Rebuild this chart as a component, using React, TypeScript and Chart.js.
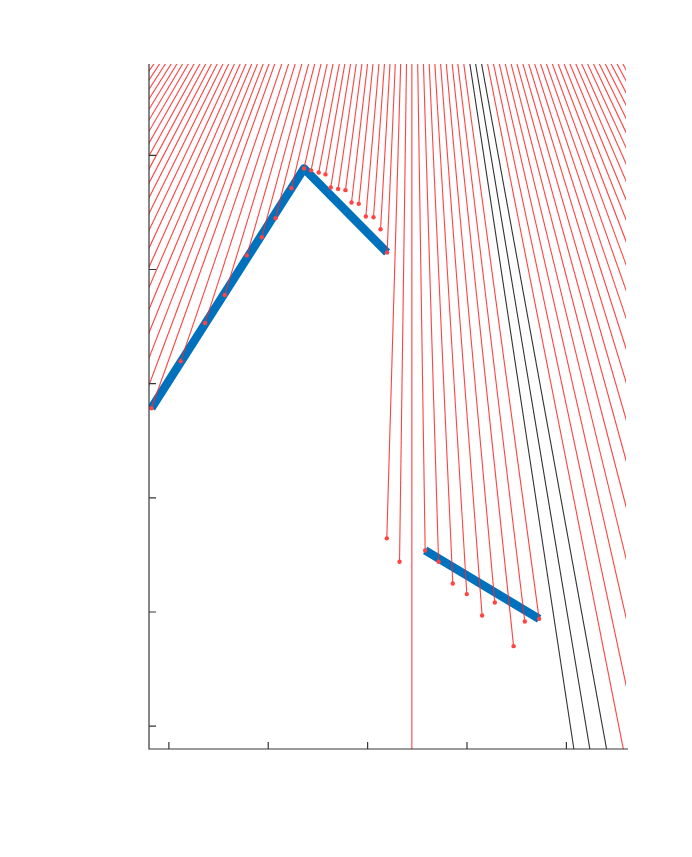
import React, { useEffect, useRef } from 'react';
import { Chart, registerables } from 'chart.js';

Chart.register(...registerables);

// axis tick positions (labels are not shown in the reference)
const xTicks = [1, 2, 3, 4, 5];
const yTicks = [0, 1, 2, 3, 4, 5];

// common far point that every spoke runs to (above the plot)
const hubX = 3.445;
const hubY = 9.15;

// visible red markers
const markerX = [
  0.824, 1.119, 1.364, 1.562, 1.784, 1.935, 2.073, 2.234, 2.36, 2.431, 2.508,
  2.576, 2.629, 2.703, 2.777, 2.838, 2.911, 2.982, 3.059, 3.13, 3.196, 3.193,
  3.321, 3.579, 3.714, 3.857, 3.998, 4.152, 4.28, 4.469, 4.582, 4.726,
];
const markerY = [
  2.785, 3.197, 3.531, 3.776, 4.122, 4.282, 4.449, 4.712, 4.885, 4.868, 4.85,
  4.833, 4.718, 4.706, 4.695, 4.587, 4.575, 4.464, 4.458, 4.353, 4.148, 1.645,
  1.44, 1.539, 1.44, 1.25, 1.157, 0.969, 1.083, 0.701, 0.917, 0.94,
];

// spokes whose own points lie left of the plot
const leftEndX = [
  0.555, 0.555, 0.555, 0.555, 0.555, 0.555, 0.555, 0.555, 0.555, 0.555, 0.555,
  0.555, 0.555, 0.555, 0.555, 0.555, 0.555, 0.555, 0.555, 0.555, 0.555,
];
const leftEndY = [
  2.416, 2.677, 2.918, 3.143, 3.351, 3.546, 3.727, 3.898, 4.058, 4.209, 4.351,
  4.485, 4.611, 4.732, 4.846, 4.954, 5.056, 5.154, 5.247, 5.337, 5.422,
];

// spokes whose own points lie right of / below the plot
const rightEndX = [
  5.94, 5.94, 5.94, 5.94, 5.94, 5.94, 5.94, 5.94, 5.94, 5.94, 5.94, 5.94,
  5.94, 5.94, 5.94, 5.94, 5.94, 5.94, 5.94, 5.94, 5.94, 5.94, 5.94, 5.94,
];
const rightEndY = [
  -1.812, -1.023, -0.339, 0.259, 0.786, 1.254, 1.672, 2.047, 2.388, 2.697,
  2.979, 3.238, 3.475, 3.695, 3.897, 4.086, 4.261, 4.425, 4.578, 4.721, 4.856,
  4.982, 5.103, 5.215,
];

// the plumb spoke straight below the hub
const plumbX = [3.445];
const plumbY = [-0.7];

// the three dark spokes
const blackEndX = [5.14, 5.307, 5.482];
const blackEndY = [-0.57, -0.57, -0.57];

// thick blue polylines
const blue1X = [0.824, 2.36, 3.196];
const blue1Y = [2.785, 4.885, 4.148];
const blue2X = [3.579, 4.726];
const blue2Y = [1.539, 0.94];

const RED = 'rgba(255, 40, 40, 0.88)';
const RED_DOT = '#ff4444';
const BLACK = '#333333';
const BLUE = '#0072BD';

function spoke(x: number, y: number, color: string, dot: number) {
  return {
    data: [
      { x, y },
      { x: hubX, y: hubY },
    ],
    showLine: true,
    borderColor: color,
    borderWidth: 1.1,
    pointRadius: [dot, 0],
    pointBackgroundColor: RED_DOT,
    pointBorderWidth: 0,
    order: 1,
  };
}

function blue(xs: number[], ys: number[]) {
  return {
    data: xs.map((x, i) => ({ x, y: ys[i] })),
    showLine: true,
    borderColor: BLUE,
    borderWidth: 8.5,
    borderJoinStyle: 'round' as const,
    pointRadius: 0,
    order: 2,
  };
}

const axesPlugin = {
  id: 'inwardAxes',
  afterDatasetsDraw(chart: any) {
    const { ctx, chartArea: a, scales } = chart;
    const xs = scales.x;
    const ys = scales.y;
    ctx.save();
    ctx.strokeStyle = '#363636';
    ctx.lineWidth = 1.2;
    ctx.beginPath();
    ctx.moveTo(a.left, a.top);
    ctx.lineTo(a.left, a.bottom);
    ctx.lineTo(a.right + 2, a.bottom);
    xTicks.forEach((v) => {
      const p = xs.getPixelForValue(v);
      ctx.moveTo(p, a.bottom);
      ctx.lineTo(p, a.bottom - 7);
    });
    yTicks.forEach((v) => {
      const p = ys.getPixelForValue(v);
      ctx.moveTo(a.left, p);
      ctx.lineTo(a.left + 7, p);
    });
    ctx.stroke();
    ctx.restore();
  },
};

export default function App() {
  const ref = useRef<HTMLCanvasElement>(null);

  useEffect(() => {
    if (!ref.current) return;
    const datasets: any[] = [];
    leftEndX.forEach((x, i) => datasets.push(spoke(x, leftEndY[i], RED, 0)));
    markerX.forEach((x, i) => datasets.push(spoke(x, markerY[i], RED, 2.2)));
    plumbX.forEach((x, i) => datasets.push(spoke(x, plumbY[i], RED, 0)));
    blackEndX.forEach((x, i) => datasets.push(spoke(x, blackEndY[i], BLACK, 0)));
    rightEndX.forEach((x, i) => datasets.push(spoke(x, rightEndY[i], RED, 0)));
    datasets.push(blue(blue1X, blue1Y));
    datasets.push(blue(blue2X, blue2Y));

    const chart = new Chart(ref.current, {
      type: 'scatter',
      data: { datasets },
      options: {
        animation: false,
        responsive: false,
        events: [],
        layout: { padding: { left: 149, top: 64, right: 66, bottom: 108 } },
        plugins: { legend: { display: false }, tooltip: { enabled: false } },
        scales: {
          x: { type: 'linear', display: false, min: 0.8, max: 5.6 },
          y: { type: 'linear', display: false, min: -0.2, max: 5.8 },
        },
      },
      plugins: [axesPlugin],
    });
    return () => chart.destroy();
  }, []);

  return (
    <div style={{ position: 'fixed', left: 0, top: 0, width: 692, height: 857, background: '#fff' }}>
      <canvas ref={ref} width={692} height={857} />
    </div>
  );
}
